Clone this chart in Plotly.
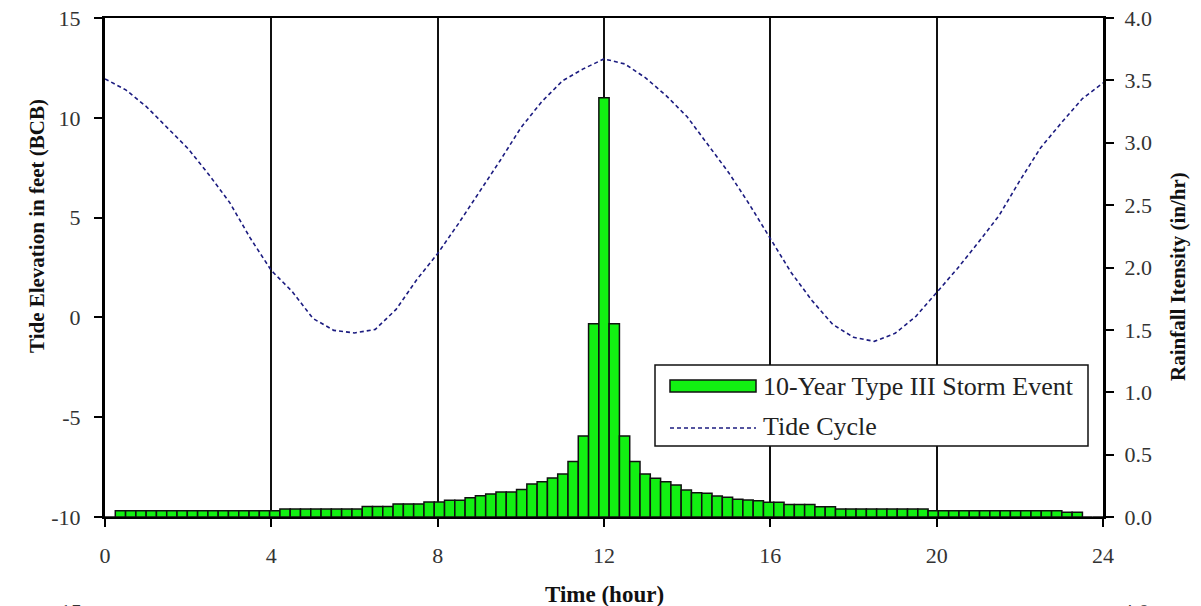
import plotly.graph_objects as go

# ---- Data ----
# Rainfall hyetograph: 97 quarter-hour categories (0.00 ... 24.00 h)
rain_time = [i * 0.25 for i in range(97)]
rain_intensity = [
    0.0,
    0.05, 0.05, 0.05, 0.05, 0.05, 0.05, 0.05, 0.05,
    0.05, 0.05, 0.05, 0.05, 0.05, 0.05, 0.05, 0.05,
    0.064, 0.064, 0.064, 0.064, 0.064, 0.064, 0.064, 0.064,
    0.085, 0.085, 0.085,
    0.105, 0.105, 0.105,
    0.12, 0.12,
    0.135, 0.135,
    0.155, 0.17, 0.185, 0.2, 0.2, 0.22,
    0.265, 0.283, 0.313, 0.345, 0.445, 0.65, 1.55,
    3.36,
    1.55, 0.65, 0.445, 0.345, 0.31, 0.283, 0.257, 0.216,
    0.195, 0.19, 0.168, 0.158, 0.142, 0.136, 0.13, 0.118,
    0.118, 0.1, 0.1, 0.1, 0.083, 0.083,
    0.064, 0.064, 0.064, 0.064, 0.064, 0.064, 0.064, 0.064, 0.064,
    0.05, 0.05, 0.05, 0.05, 0.05, 0.05, 0.05, 0.05, 0.05,
    0.05, 0.05, 0.05, 0.05,
    0.038, 0.038,
    0.0, 0.0,
]

# Tide cycle (ft, BCB) every half hour
tide_time = [i * 0.5 for i in range(49)]
tide_elev = [
    11.95, 11.4, 10.55, 9.5, 8.45, 7.15, 5.75, 3.95, 2.35, 1.3,
    -0.05, -0.65, -0.78, -0.6, 0.4, 1.9, 3.2, 4.7, 6.25, 7.85,
    9.5, 10.8, 11.85, 12.45, 12.95, 12.7, 12.0, 11.1, 10.05, 8.65,
    7.25, 5.65, 3.95, 2.25, 0.85, -0.35, -1.0, -1.2, -0.8, 0.05,
    1.25, 2.45, 3.75, 5.1, 6.85, 8.5, 9.75, 10.95, 11.75,
]

x_ticks = [0, 4, 8, 12, 16, 20, 24]
left_ticks = [-10, -5, 0, 5, 10, 15]
right_ticks = [0.0, 0.5, 1.0, 1.5, 2.0, 2.5, 3.0, 3.5, 4.0]

storm_name = "10-Year Type III Storm Event"
tide_name = "Tide Cycle"

GREEN = "#12F012"
NAVY = "#1C1C80"
SERIF = "Liberation Serif"
TICK_COLOR = "#333333"
TICK_SIZE = 22

fig = go.Figure()

fig.add_trace(go.Bar(
    x=rain_time, y=rain_intensity, name=storm_name,
    xaxis="x2", yaxis="y2", width=0.25,
    marker=dict(color=GREEN, line=dict(color="#101010", width=1.5)),
    showlegend=False,
))

fig.add_trace(go.Scatter(
    x=tide_time, y=tide_elev, name=tide_name, mode="lines",
    line=dict(color=NAVY, width=1.6, dash="4px,3px"),
    xaxis="x", yaxis="y", showlegend=False,
))

fig.update_layout(
    width=1201, height=606,
    margin=dict(l=105, r=98, t=18, b=89, autoexpand=False),
    paper_bgcolor="white", plot_bgcolor="white",
    font=dict(family=SERIF, color=TICK_COLOR, size=20),
    showlegend=False,
    xaxis=dict(
        range=[0, 24], tickvals=x_ticks, ticktext=[str(v) for v in x_ticks],
        ticks="outside", ticklen=8, tickwidth=2, tickcolor="black",
        ticklabelstandoff=10, automargin=False,
        showline=True, linecolor="black", linewidth=2, mirror=True,
        showgrid=True, gridcolor="#111111", gridwidth=1.5,
        zeroline=False, tickfont=dict(size=TICK_SIZE, color=TICK_COLOR),
    ),
    xaxis2=dict(
        range=[-0.125, 24.125], overlaying="x", visible=False,
        showgrid=False, zeroline=False,
    ),
    yaxis=dict(
        range=[-10, 15], tickvals=left_ticks,
        ticktext=[str(v) for v in left_ticks],
        ticks="outside", ticklen=8, tickwidth=2, tickcolor="black",
        ticklabelstandoff=9, automargin=False,
        showline=True, linecolor="black", linewidth=3,
        showgrid=False, zeroline=False,
        tickfont=dict(size=TICK_SIZE, color=TICK_COLOR),
    ),
    yaxis2=dict(
        range=[0, 4], tickvals=right_ticks,
        ticktext=["%.1f" % v for v in right_ticks],
        overlaying="y", side="right",
        ticks="outside", ticklen=8, tickwidth=2, tickcolor="black",
        ticklabelstandoff=6, automargin=False,
        showline=True, linecolor="black", linewidth=3,
        showgrid=False, zeroline=False,
        tickfont=dict(size=TICK_SIZE, color=TICK_COLOR),
    ),
)

# ---- Axis titles ----
PH = 606 - 18 - 89  # plot height px
PW = 1201 - 105 - 98


def px_x(px):
    return (px - 105) / PW


def px_y(py):
    return (517 - py) / PH


ann = []
ann.append(dict(text="<b>Tide Elevation in feet (BCB)</b>", textangle=-90,
                xref="paper", yref="paper", x=px_x(37), y=px_y(226),
                xanchor="center", yanchor="middle", showarrow=False,
                font=dict(family=SERIF, size=21, color="#111111")))
ann.append(dict(text="<b>Rainfall Itensity (in/hr)</b>", textangle=-90,
                xref="paper", yref="paper", x=px_x(1178), y=px_y(277),
                xanchor="center", yanchor="middle", showarrow=False,
                font=dict(family=SERIF, size=21, color="#111111")))
ann.append(dict(text="<b>Time (hour)</b>",
                xref="paper", yref="paper", x=px_x(604), y=px_y(594),
                xanchor="center", yanchor="middle", showarrow=False,
                font=dict(family=SERIF, size=23, color="#111111")))
# fragments of the next chart's tick labels, cut off at the bottom edge
ann.append(dict(text="15", xref="paper", yref="paper", x=px_x(84), y=px_y(597),
                xanchor="right", yanchor="top", showarrow=False,
                font=dict(family=SERIF, size=TICK_SIZE, color=TICK_COLOR)))
ann.append(dict(text="4.0", xref="paper", yref="paper", x=px_x(1120), y=px_y(597),
                xanchor="left", yanchor="top", showarrow=False,
                font=dict(family=SERIF, size=TICK_SIZE, color=TICK_COLOR)))

# ---- Custom legend ----
shapes = []
shapes.append(dict(type="rect", xref="paper", yref="paper",
                   x0=px_x(655), x1=px_x(1088), y0=px_y(446), y1=px_y(365),
                   line=dict(color="#111111", width=1.5), fillcolor="white", layer="above"))
shapes.append(dict(type="rect", xref="paper", yref="paper",
                   x0=px_x(670), x1=px_x(756), y0=px_y(392), y1=px_y(380),
                   line=dict(color="#111111", width=1.5), fillcolor=GREEN, layer="above"))
shapes.append(dict(type="line", xref="paper", yref="paper",
                   x0=px_x(670), x1=px_x(756), y0=px_y(428), y1=px_y(428),
                   line=dict(color=NAVY, width=1.6, dash="4px,3px"), layer="above"))
ann.append(dict(text=storm_name, xref="paper", yref="paper",
                x=px_x(761), y=px_y(386), xanchor="left", yanchor="middle",
                showarrow=False, font=dict(family=SERIF, size=26, color="#222222")))
ann.append(dict(text=tide_name, xref="paper", yref="paper",
                x=px_x(761), y=px_y(426), xanchor="left", yanchor="middle",
                showarrow=False, font=dict(family=SERIF, size=26, color="#222222")))

fig.update_layout(annotations=ann, shapes=shapes)

fig.write_html("out.html", config={"displayModeBar": False},
               post_script="document.body.style.margin='0';")
